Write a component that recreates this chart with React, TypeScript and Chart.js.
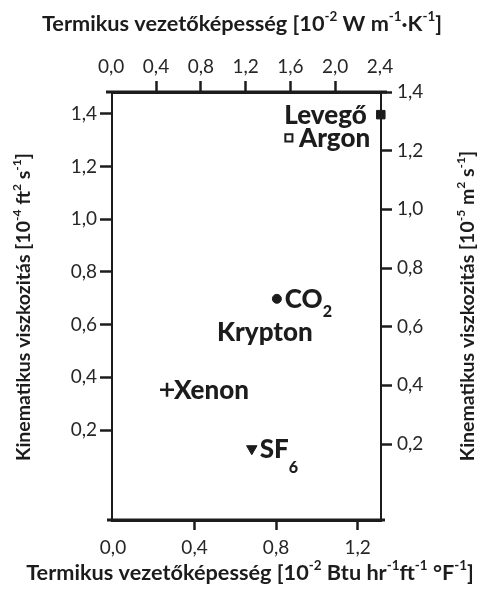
import React, { useEffect, useRef } from "react";
import { Chart, registerables } from "chart.js";

Chart.register(...registerables);

// ---- data ----
const gases = ["Levegő", "Argon", "CO2", "Krypton", "Xenon", "SF6"];
const conductivityBtu = [1.314, 0.863, 0.804, 0.745, 0.265, 0.681];
const viscosityFt = [1.397, 1.309, 0.698, 0.573, 0.353, 0.129];
const bottomTicks = [0, 0.4, 0.8, 1.2];
const topTicks = [0, 0.4, 0.8, 1.2, 1.6, 2.0, 2.4];
const leftTicks = [0.2, 0.4, 0.6, 0.8, 1.0, 1.2, 1.4];
const rightTicks = [0.2, 0.4, 0.6, 0.8, 1.0, 1.2, 1.4];

type Seg = { t: string; sup?: boolean; sub?: boolean };

const gasLabels: Seg[][] = [
  [{ t: "Levegő" }],
  [{ t: "Argon" }],
  [{ t: "CO" }, { t: "2", sub: true }],
  [{ t: "Krypton" }],
  [{ t: "Xenon" }],
  [{ t: "SF" }, { t: "6", sub: true }],
];

const topTitle: Seg[] = [
  { t: "Termikus vezetőképesség [10" }, { t: "-2", sup: true }, { t: " W m" },
  { t: "-1", sup: true }, { t: "·K" }, { t: "-1", sup: true }, { t: "]" },
];
const bottomTitle: Seg[] = [
  { t: "Termikus vezetőképesség [10" }, { t: "-2", sup: true }, { t: " Btu hr" },
  { t: "-1", sup: true }, { t: "ft" }, { t: "-1", sup: true }, { t: " °F" },
  { t: "-1", sup: true }, { t: "]" },
];
const leftTitle: Seg[] = [
  { t: "Kinematikus viszkozitás [10" }, { t: "-4", sup: true }, { t: " ft" },
  { t: "2", sup: true }, { t: " s" }, { t: "-1", sup: true }, { t: "]" },
];
const rightTitle: Seg[] = [
  { t: "Kinematikus viszkozitás [10" }, { t: "-5", sup: true }, { t: " m" },
  { t: "2", sup: true }, { t: " s" }, { t: "-1", sup: true }, { t: "]" },
];

// ---- styles ----
const FAMILY = "Lato, 'Open Sans', sans-serif";
const INK = "#1c1c1c";
const markerStyle = ["rect", "rect", "circle", "circle", "cross", "triangle"];
const markerRadius = [6, 5, 4.5, 0, 7, 6];
const markerRotation = [0, 0, 0, 0, 0, 180];
const markerFill = [INK, "#ffffff", INK, INK, INK, INK];
const markerBorder = [1, 2, 1, 0, 2.5, 1];
const labelAlign = ["right", "left", "left", "center", "left", "left"];
const labelGap = [14, 10, 8, 0, 7, 8];
const labelSubDrop = [0.5, 0.5, 0.45, 0.5, 0.5, 0.68];

const fmt = (v: number) => v.toFixed(1).replace(".", ",");

function drawRich(
  ctx: CanvasRenderingContext2D,
  segs: Seg[],
  x: number,
  y: number,
  align: string,
  size: number,
  weight: string,
  rot = 0,
  subDrop = 0.55
) {
  const small = size * 0.62;
  const fontOf = (s: Seg) => `${weight} ${s.sup || s.sub ? small : size}px ${FAMILY}`;
  let w = 0;
  const widths = segs.map((s) => {
    ctx.font = fontOf(s);
    const m = ctx.measureText(s.t).width;
    w += m;
    return m;
  });
  ctx.save();
  ctx.translate(x, y);
  ctx.rotate(rot);
  ctx.fillStyle = INK;
  ctx.textBaseline = "middle";
  ctx.textAlign = "left";
  let cx = align === "center" ? -w / 2 : align === "right" ? -w : 0;
  segs.forEach((s, i) => {
    ctx.font = fontOf(s);
    const dy = s.sup ? -size * 0.33 : s.sub ? size * subDrop : 0;
    ctx.fillText(s.t, cx, dy);
    cx += widths[i];
  });
  ctx.restore();
}

function axis(
  position: string,
  min: number,
  max: number,
  ticks: number[],
  size: number,
  hidden: number[],
  tickLength: number,
  borderWidth: number,
  padding: number
) {
  const horizontal = position === "top" || position === "bottom";
  return {
    type: "linear",
    position,
    min,
    max,
    bounds: "data",
    afterBuildTicks: (s: any) => {
      s.ticks = ticks.map((v) => ({ value: v }));
    },
    afterFit: (s: any) => {
      if (horizontal) s.height = size;
      else s.width = size;
    },
    ticks: {
      callback: (v: number) => fmt(v),
      font: { family: FAMILY, size: 19 },
      color: "#262626",
      padding,
      maxRotation: 0,
      autoSkip: false,
    },
    grid: {
      drawOnChartArea: false,
      drawTicks: true,
      tickLength,
      tickWidth: 2.5,
      tickColor: (c: any) =>
        c.tick && hidden.some((h) => Math.abs(h - c.tick.value) < 1e-6) ? "rgba(0,0,0,0)" : INK,
    },
    border: { display: true, color: INK, width: borderWidth },
  };
}

const decorations = {
  id: "decorations",
  afterDatasetsDraw(chart: any) {
    const ctx = chart.ctx as CanvasRenderingContext2D;
    const meta = chart.getDatasetMeta(0);
    meta.data.forEach((el: any, i: number) => {
      const a = labelAlign[i];
      const x = a === "right" ? el.x - labelGap[i] : a === "left" ? el.x + labelGap[i] : el.x;
      drawRich(ctx, gasLabels[i], x, el.y + 1, a, 26, "900", 0, labelSubDrop[i]);
    });
  },
  afterDraw(chart: any) {
    const ctx = chart.ctx as CanvasRenderingContext2D;
    const a = chart.chartArea;
    ctx.save();
    ctx.strokeStyle = INK;
    ctx.lineWidth = 3;
    ctx.beginPath();
    ctx.moveTo(a.left - 6, a.top);
    ctx.lineTo(a.right + 6, a.top);
    ctx.moveTo(a.left - 5, a.bottom);
    ctx.lineTo(a.right + 4, a.bottom);
    ctx.stroke();
    ctx.restore();
    const cy = (a.top + a.bottom) / 2;
    drawRich(ctx, topTitle, 242, 24, "center", 21.7, "bold");
    drawRich(ctx, bottomTitle, 250, 573, "center", 21.7, "bold");
    drawRich(ctx, leftTitle, 24, cy + 1, "center", 19.5, "bold", -Math.PI / 2);
    drawRich(ctx, rightTitle, 468, cy, "center", 19.5, "bold", -Math.PI / 2);
  },
};

export default function App() {
  const ref = useRef<HTMLCanvasElement>(null);
  useEffect(() => {
    document.body.style.margin = "0";
    const canvas = ref.current!;
    const chart = new Chart(canvas, {
      type: "scatter",
      data: {
        datasets: [
          {
            data: gases.map((_, i) => ({ x: conductivityBtu[i], y: viscosityFt[i] })),
            xAxisID: "x",
            yAxisID: "y",
            pointStyle: markerStyle as any,
            pointRadius: markerRadius,
            pointRotation: markerRotation,
            backgroundColor: markerFill,
            borderColor: INK,
            borderWidth: markerBorder,
            clip: false as any,
          },
        ],
      },
      options: {
        responsive: false,
        animation: false,
        layout: { padding: 0 },
        plugins: { legend: { display: false }, tooltip: { enabled: false } },
        scales: {
          x: axis("bottom", -0.005, 1.315, bottomTicks, 79, [0], 10, 3, 6) as any,
          x2: axis("top", 0.007, 2.409, topTicks, 92, [0, 2.4], 11, 3, 3) as any,
          y: axis("left", -0.1415, 1.483, leftTicks, 112, [], 12, 2, 3) as any,
          y2: axis("right", -0.059, 1.4, rightTicks, 97, [], 11, 2, 5) as any,
        },
      },
      plugins: [decorations],
    });
    return () => chart.destroy();
  }, []);
  return (
    <div style={{ width: 478, height: 599 }}>
      <canvas ref={ref} width={478} height={599} />
    </div>
  );
}
